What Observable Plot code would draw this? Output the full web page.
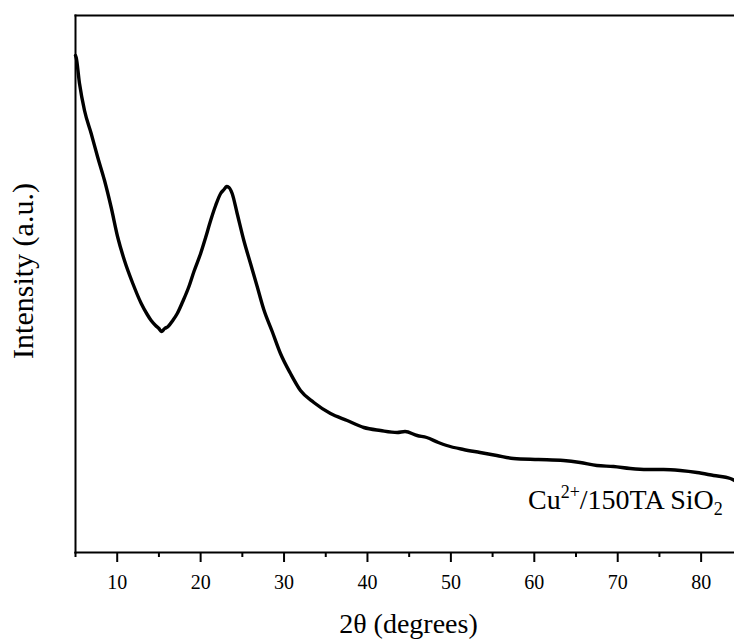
<!DOCTYPE html>
<html>
<head>
<meta charset="utf-8">
<script src="https://cdn.jsdelivr.net/npm/d3@7"></script>
<script src="https://cdn.jsdelivr.net/npm/@observablehq/plot@0.6"></script>
<style>
  html, body { margin: 0; padding: 0; background: #fff; }
  #chart svg { display: block; }
</style>
</head>
<body>
<div id="chart"></div>
<script>
// 2θ (degrees)
const twoTheta = [5.0, 5.08, 5.48, 6.08, 6.88, 7.67, 8.48, 9.28, 10.07, 10.87, 11.87, 12.88, 13.6, 14.07, 14.6, 15.0, 15.3, 15.7, 16.1, 16.66, 17.2, 17.86, 18.6, 19.2, 20.0, 20.6, 21.2, 21.8, 22.4, 22.8, 23.1, 23.4, 23.78, 24.38, 25.18, 25.98, 26.78, 27.57, 28.58, 29.57, 30.77, 31.97, 33.57, 35.57, 37.57, 39.56, 41.56, 43.56, 44.5, 45.96, 47.1, 48.5, 49.5, 51.5, 53.5, 55.5, 57.5, 60.5, 63.5, 65.5, 67.5, 69.5, 71.5, 73.5, 75.5, 77.5, 79.5, 81.5, 83.5, 84.0];
// intensity (arbitrary units)
const intensity = [497, 495, 469, 442, 419, 395, 372, 345, 315, 292, 269, 249, 238, 232, 227, 224, 221, 224, 226, 232, 239, 251, 266, 281, 299, 315, 332, 347, 359, 363, 366, 365, 359, 339, 312, 289, 266, 243, 221, 199, 179, 162, 150, 139, 132, 125, 122, 120, 121, 117, 115, 110, 107, 103, 100, 97, 94, 93, 92, 90, 87, 86, 84, 83, 83, 82, 80, 77, 74, 72];
const majorTicks = [10, 20, 30, 40, 50, 60, 70, 80];
const minorTicks = [5, 15, 25, 35, 45, 55, 65, 75];
const xLabel = "2θ (degrees)";
const yLabel = "Intensity (a.u.)";
const sampleLabel = {base: "Cu", sup: "2+", mid: "/150TA SiO", sub: "2"};
const sampleLabelPos = {x: 82.65, y: 43};

const data = twoTheta.map((t, i) => ({t, v: intensity[i]}));
const serif = "'Liberation Serif', 'Times New Roman', serif";

const plot = Plot.plot({
  width: 734,
  height: 641,
  marginLeft: 75,
  marginRight: 0,
  marginTop: 15,
  marginBottom: 89,
  style: {fontFamily: serif, fontSize: "20px", color: "#000", background: "#fff"},
  x: {domain: [5, 84], label: null},
  y: {domain: [0, 537], axis: null},
  marks: [
    Plot.line(data, {x: "t", y: "v", stroke: "#000", strokeWidth: 3.4, strokeLinejoin: "round", curve: "monotone-x"}),
    Plot.frame({anchor: "top", stroke: "#000", strokeWidth: 2}),
    Plot.frame({anchor: "left", stroke: "#000", strokeWidth: 2}),
    Plot.frame({anchor: "bottom", stroke: "#000", strokeWidth: 2}),
    Plot.axisX(majorTicks, {tickSize: 10, tickPadding: 12, strokeWidth: 2, fontSize: 20, label: null}),
    Plot.axisX(minorTicks, {tickSize: 5, tickFormat: () => "", strokeWidth: 2, label: null})
  ]
});

document.getElementById("chart").appendChild(plot);

const svg = d3.select(plot);
const xs = plot.scale("x"), ys = plot.scale("y");

// axis titles
svg.append("text")
  .attr("x", 408.5).attr("y", 633)
  .attr("text-anchor", "middle")
  .attr("font-family", serif).attr("font-size", 28).attr("fill", "#000")
  .text(xLabel);
svg.append("text")
  .attr("transform", "translate(33,271) rotate(-90)")
  .attr("text-anchor", "middle")
  .attr("font-family", serif).attr("font-size", 30).attr("fill", "#000")
  .text(yLabel);

// sample label with superscript / subscript
const t = svg.append("text")
  .attr("x", xs.apply(sampleLabelPos.x))
  .attr("y", ys.apply(sampleLabelPos.y))
  .attr("text-anchor", "end")
  .attr("font-family", serif)
  .attr("font-size", 28)
  .attr("fill", "#000");
t.append("tspan").text(sampleLabel.base);
t.append("tspan").attr("dy", -11).attr("font-size", 18).text(sampleLabel.sup);
t.append("tspan").attr("dy", 11).text(sampleLabel.mid);
t.append("tspan").attr("dy", 6).attr("font-size", 18).text(sampleLabel.sub);
</script>
</body>
</html>
